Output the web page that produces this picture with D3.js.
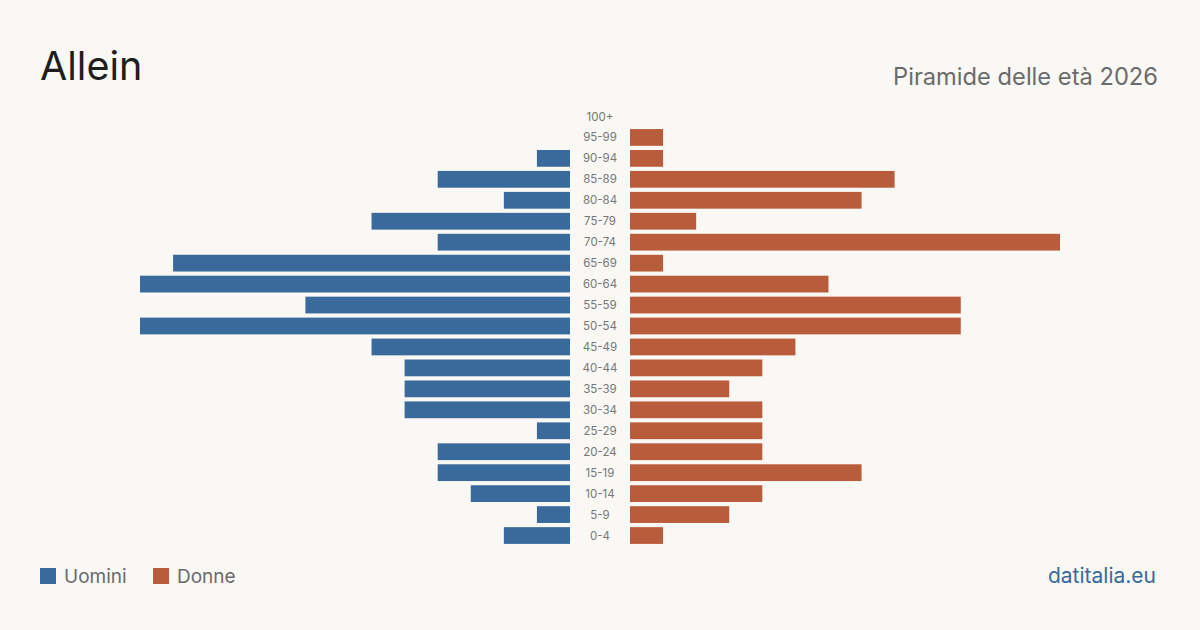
<!DOCTYPE html>
<html>
<head>
<meta charset="utf-8">
<script src="https://d3js.org/d3.v7.min.js"></script>
<style>
  html, body { margin: 0; padding: 0; background: #f9f8f4; }
  body { font-family: Inter, 'Noto Sans', sans-serif; }
</style>
</head>
<body>
<div id="chart"></div>
<script>
// age classes, youngest first
var ageGroups = ["0-4","5-9","10-14","15-19","20-24","25-29","30-34","35-39","40-44","45-49",
                 "50-54","55-59","60-64","65-69","70-74","75-79","80-84","85-89","90-94","95-99","100+"];
var men   = [2,1,3,4,4,1,5,5,5,6,13,8,13,12,4,6,2,4,1,0,0];
var women = [1,3,4,7,4,4,4,3,4,5,10,10,6,1,13,2,7,8,1,1,0];
var seriesNames = ["Uomini","Donne"];
var colors = ["#3a6a9b","#b95c3c"];

var W = 1200, H = 630;
var centerX = 600, gap = 30, halfW = 430;

var svg = d3.select("#chart").append("svg")
    .attr("width", W).attr("height", H);

svg.append("rect").attr("width", W).attr("height", H).attr("fill", "#f9f8f4");

// titles
svg.append("text")
    .attr("x", 40).attr("y", 80)
    .attr("font-size", 39.5).attr("fill", "#1e1e1e")
    .text("Allein");

svg.append("text")
    .attr("x", 1158).attr("y", 85)
    .attr("text-anchor", "end")
    .attr("font-size", 23.7).attr("fill", "#6b6b6b")
    .text("Piramide delle età 2026");

// scales
var maxV = d3.max(men.concat(women));
var x = d3.scaleLinear().domain([0, maxV]).range([0, halfW]);
var y = d3.scaleBand()
    .domain(ageGroups.slice().reverse())
    .range([106, 546])
    .paddingInner(0.2).paddingOuter(0.1);

var rows = ageGroups.map(function(a, i) { return {age: a, m: men[i], f: women[i]}; });

svg.append("g").selectAll("rect")
    .data(rows).enter().append("rect")
    .attr("x", function(d) { return centerX - gap - x(d.m); })
    .attr("y", function(d) { return y(d.age); })
    .attr("width", function(d) { return x(d.m); })
    .attr("height", y.bandwidth())
    .attr("fill", colors[0]);

svg.append("g").selectAll("rect")
    .data(rows).enter().append("rect")
    .attr("x", centerX + gap)
    .attr("y", function(d) { return y(d.age); })
    .attr("width", function(d) { return x(d.f); })
    .attr("height", y.bandwidth())
    .attr("fill", colors[1]);

svg.append("g").selectAll("text")
    .data(rows).enter().append("text")
    .attr("x", centerX)
    .attr("y", function(d) { return y(d.age) + y.bandwidth() / 2; })
    .attr("dy", "0.35em")
    .attr("text-anchor", "middle")
    .attr("font-size", 11.5).attr("fill", "#777")
    .text(function(d) { return d.age; });

// legend
var legend = svg.append("g").attr("transform", "translate(40,568)");
var lx = [0, 113];
seriesNames.forEach(function(n, i) {
  legend.append("rect").attr("x", lx[i]).attr("y", 0)
      .attr("width", 16).attr("height", 16).attr("fill", colors[i]);
  legend.append("text").attr("x", lx[i] + 24).attr("y", 8).attr("dy", "0.35em")
      .attr("font-size", 19).attr("fill", "#6b6b6b").text(n);
});

svg.append("text")
    .attr("x", 1156).attr("y", 583)
    .attr("text-anchor", "end")
    .attr("font-size", 21).attr("fill", "#3a6a9b")
    .text("datitalia.eu");
</script>
</body>
</html>
